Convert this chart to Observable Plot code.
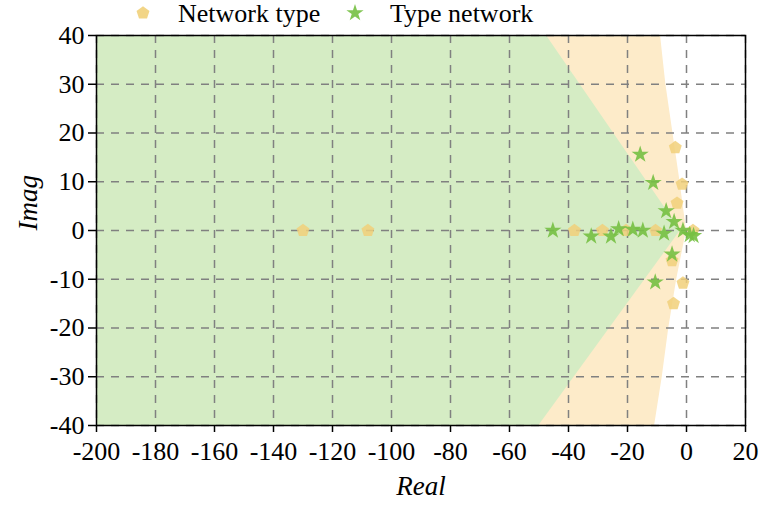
<!DOCTYPE html>
<html>
<head>
<meta charset="utf-8">
<script src="https://cdn.jsdelivr.net/npm/d3@7"></script>
<script src="https://cdn.jsdelivr.net/npm/@observablehq/plot@0.6"></script>
<style>
  html, body { margin: 0; padding: 0; background: #fff; }
  #wrap { width: 760px; height: 515px; position: relative; font-family: "Liberation Serif", "Times New Roman", serif; }
  #legend { position: relative; height: 28px; width: 760px; }
  #legend .item { position: absolute; top: 0; height: 28px; line-height: 28px; font-size: 26px; color: #000; white-space: nowrap; }
  #legend svg { position: absolute; top: 0; }
</style>
</head>
<body>
<div id="wrap">
  <div id="legend"></div>
  <div id="chart"></div>
</div>
<script>
// ---- data ----
const seriesNames = ["Network type", "Type network"];
const xTicks = [-200, -180, -160, -140, -120, -100, -80, -60, -40, -20, 0, 20];
const yTicks = [-40, -30, -20, -10, 0, 10, 20, 30, 40];

// poles of "Network type" (pentagons)
const netReal = [-130, -108, -38, -28.5, -20.5, -10.5, 2.2, -3.8, -1.5, -3.2, -4.9, -1.2, -4.4];
const netImag = [0, 0, 0, 0, 0, 0, 0, 17.0, 9.5, 5.6, -6.2, -10.8, -15.0];

// poles of "Type network" (stars)
const typeReal = [-45.3, -32.3, -25.6, -23.0, -18.2, -14.8, -7.6, -1.2, 1.1, 2.4, -15.7, -11.3, -6.9, -4.2, -4.9, -10.6];
const typeImag = [0, -1.2, -1.2, 0.3, 0.2, 0, -0.6, 0, -0.9, -1.1, 15.6, 9.8, 4.0, 1.8, -4.9, -10.6];

// region boundaries (imag -> real)
const beigeImag = [40, 30, 20, 10, 0, -10, -20, -30, -40];
const beigeReal = [-8.8, -7.0, -4.6, -2.2, 0, -3.3, -6.0, -8.2, -10.8];
const greenImag = [40, 0, -40];
const greenReal = [-47.5, -2.0, -50.0];

// ---- build tables ----
const netPts = netReal.map((x, i) => ({x, y: netImag[i]}));
const typePts = typeReal.map((x, i) => ({x, y: typeImag[i]}));
const beige = beigeImag.map((y, i) => ({y, x: beigeReal[i]}));
const green = greenImag.map((y, i) => ({y, x: greenReal[i]}));

const pentagon = {
  draw(context, size) {
    const r = Math.sqrt(size / Math.PI);
    for (let k = 0; k < 5; ++k) {
      const a = -Math.PI / 2 + k * 2 * Math.PI / 5;
      const px = r * Math.cos(a), py = r * Math.sin(a);
      if (k === 0) context.moveTo(px, py); else context.lineTo(px, py);
    }
    context.closePath();
  }
};

const pentFill = "#f1d07a";
const starFill = "#76c043";
const greenFill = "#d5ecc4";
const beigeFill = "#fdebc9";
const gridStyle = {stroke: "#808080", strokeOpacity: 1, strokeWidth: 1.5, strokeDasharray: "8,7"};
const fmt = d => String(d);

const chart = Plot.plot({
  width: 760,
  height: 487,
  marginLeft: 96,
  marginRight: 15,
  marginTop: 7,
  marginBottom: 90,
  style: {fontFamily: "'Liberation Serif', 'Times New Roman', serif", fontSize: "26px", color: "#000", background: "#fff", overflow: "visible"},
  x: {domain: [-200, 20]},
  y: {domain: [-40, 40]},
  marks: [
    Plot.areaX(beige, {y: "y", x1: -200, x2: "x", fill: beigeFill}),
    Plot.areaX(green, {y: "y", x1: -200, x2: "x", fill: greenFill}),
    Plot.gridX(xTicks, gridStyle),
    Plot.gridY(yTicks, gridStyle),
    Plot.frame({stroke: "#000", strokeWidth: 1.5}),
    Plot.axisX(xTicks, {tickSize: 7, tickPadding: 9, tickFormat: fmt, label: null, stroke: "#000", strokeWidth: 1.5, fontSize: 26, fill: "#000"}),
    Plot.axisY(yTicks, {tickSize: 8, tickPadding: 4, tickFormat: fmt, label: null, stroke: "#000", strokeWidth: 1.5, fontSize: 26, fill: "#000"}),
    Plot.dot(netPts, {x: "x", y: "y", symbol: pentagon, r: 6.8, fill: pentFill, fillOpacity: 0.85, stroke: "none"}),
    Plot.dot(typePts, {x: "x", y: "y", symbol: "star", r: 5.4, fill: starFill, fillOpacity: 0.9, stroke: "none"}),
    Plot.text(["Real"], {frameAnchor: "bottom", dy: 69, fontSize: 27, fontStyle: "italic", fill: "#000"}),
    Plot.text(["Imag"], {frameAnchor: "left", dx: -68, rotate: -90, fontSize: 27, fontStyle: "italic", fill: "#000"})
  ]
});
document.getElementById("chart").appendChild(chart);

// ---- legend ----
const legend = d3.select("#legend");
const items = [
  {name: seriesNames[0], sym: pentagon, size: 6.8 * 6.8 * Math.PI, fill: pentFill, sx: 131, tx: 178},
  {name: seriesNames[1], sym: d3.symbolStar, size: 5.4 * 5.4 * Math.PI, fill: starFill, sx: 343, tx: 390}
];
for (const it of items) {
  const s = legend.append("svg").attr("width", 24).attr("height", 26).style("left", it.sx + "px");
  s.append("path").attr("transform", "translate(12,13)")
    .attr("d", d3.symbol(it.sym, it.size)())
    .attr("fill", it.fill).attr("fill-opacity", 0.9);
  legend.append("div").attr("class", "item").style("left", it.tx + "px").text(it.name);
}
</script>
</body>
</html>
